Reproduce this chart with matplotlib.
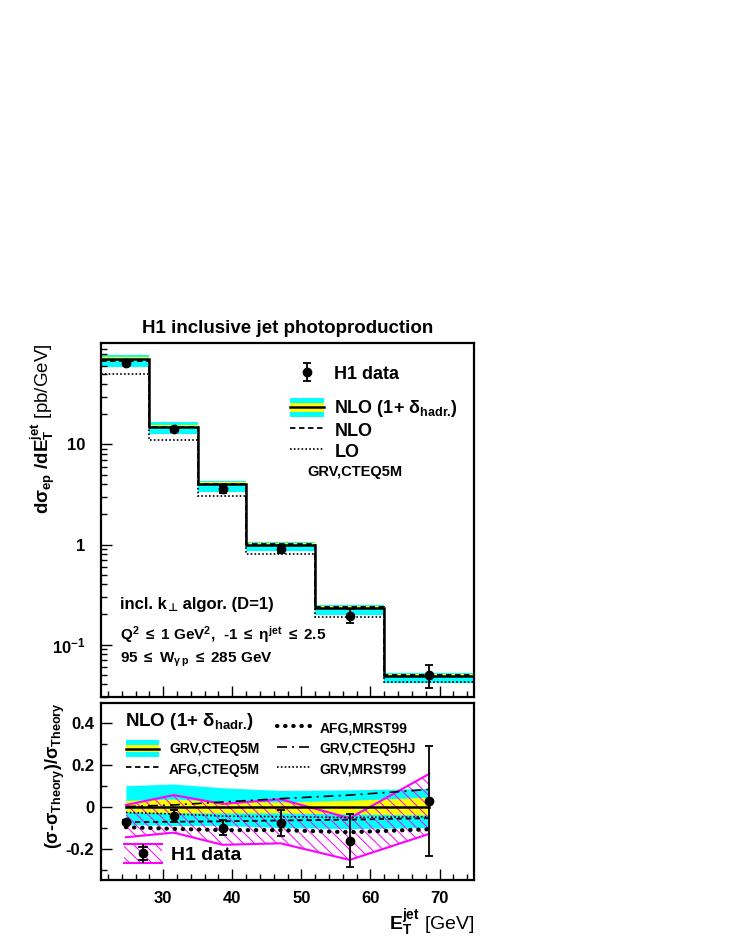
import matplotlib
matplotlib.use('Agg')
import matplotlib.pyplot as plt
from matplotlib.ticker import MultipleLocator, FixedLocator, LogLocator, NullFormatter, FixedFormatter
from matplotlib.legend_handler import HandlerBase
from matplotlib.patches import Rectangle, Patch
from matplotlib.lines import Line2D

plt.rcParams['font.family'] = ['Liberation Sans', 'DejaVu Sans']
plt.rcParams['font.weight'] = 'bold'
plt.rcParams['mathtext.fontset'] = 'custom'
plt.rcParams['mathtext.rm'] = 'Liberation Sans:bold'
plt.rcParams['mathtext.it'] = 'Liberation Sans:bold'
plt.rcParams['mathtext.bf'] = 'Liberation Sans:bold'
plt.rcParams['mathtext.default'] = 'rm'
plt.rcParams['hatch.linewidth'] = 0.7

# E_T^jet bins (GeV) and data point positions
bin_edges = [21, 28, 35, 42, 52, 62, 75]
x_pts = [24.6, 31.5, 38.6, 47.0, 57.0, 68.5]

# top panel: d sigma / dE_T  [pb/GeV]
nlo_had = [70.5, 14.8, 4.0, 0.99, 0.233, 0.0483]
nlo = [68.0, 15.0, 4.05, 1.02, 0.237, 0.0495]
lo = [51.0, 11.1, 3.05, 0.81, 0.190, 0.0425]
scale_lo = [59.5, 12.7, 3.37, 0.86, 0.197, 0.0417]
scale_hi = [78.9, 16.6, 4.33, 1.07, 0.250, 0.0521]
had_lo = [69.0, 14.5, 3.92, 0.97, 0.228, 0.0473]
had_hi = [74.5, 15.5, 4.18, 1.04, 0.244, 0.0505]

h1 = [65.0, 14.1, 3.56, 0.91, 0.194, 0.0496]
h1_lo = [61.5, 13.3, 3.25, 0.83, 0.165, 0.037]
h1_hi = [68.5, 14.9, 3.85, 1.00, 0.226, 0.0623]

# bottom panel: (sigma - sigma_theory)/sigma_theory
rel_h1 = [-0.074, -0.045, -0.100, -0.079, -0.165, 0.027]
rel_h1_lo = [-0.085, -0.072, -0.135, -0.140, -0.290, -0.235]
rel_h1_hi = [-0.063, -0.015, -0.065, -0.016, -0.035, 0.290]
rel_corr_lo = [-0.146, -0.124, -0.182, -0.175, -0.254, -0.130]
rel_corr_hi = [0.008, 0.055, 0.013, 0.035, -0.055, 0.156]

rel_scale_lo = [-0.085, -0.090, -0.090, -0.100, -0.105, -0.100]
rel_scale_hi = [0.100, 0.108, 0.090, 0.077, 0.080, 0.087]
rel_had_lo = [-0.025, -0.030, -0.030, -0.030, -0.035, -0.040]
rel_had_hi = [0.030, 0.036, 0.025, 0.022, 0.030, 0.045]

rel_grv_cteq5m = [0.0, 0.0, 0.0, 0.0, 0.0, 0.0]
rel_afg_cteq5m = [-0.074, -0.072, -0.070, -0.066, -0.062, -0.055]
rel_afg_mrst99 = [-0.098, -0.106, -0.112, -0.112, -0.122, -0.108]
rel_grv_cteq5hj = [0.0, 0.008, 0.022, 0.038, 0.055, 0.082]
rel_grv_mrst99 = [-0.028, -0.035, -0.045, -0.048, -0.052, -0.048]

thick_dot = (0, (0.1, 1.85))
dash_dot = (0, (6, 3, 1.2, 3))
fine_dot = (0, (1, 1.3))
dashed = (0, (3, 2))


class BandHandler(HandlerBase):
    def create_artists(self, legend, orig_handle, xd, yd, w, h, fontsize, trans):
        x0, y0 = -xd, -yd
        outer = Rectangle((x0, y0), w, h, facecolor='cyan', lw=0, transform=trans)
        inner = Rectangle((x0, y0 + 0.28 * h), w, 0.44 * h, facecolor='yellow', lw=0, transform=trans)
        line = Line2D([x0, x0 + w], [y0 + 0.5 * h] * 2, color='black', lw=1.8, transform=trans)
        return [outer, inner, line]


class H1Handler(HandlerBase):
    def create_artists(self, legend, orig_handle, xd, yd, w, h, fontsize, trans):
        x0, y0 = -xd, -yd
        xm = x0 + w / 2
        box = Rectangle((x0, y0), w, h, facecolor='none', edgecolor='magenta',
                        hatch='\\\\\\', lw=0, transform=trans)
        top = Line2D([x0, x0 + w], [y0 + h] * 2, color='magenta', lw=1.5, transform=trans)
        bot = Line2D([x0, x0 + w], [y0, y0], color='magenta', lw=1.5, transform=trans)
        bar = Line2D([xm, xm], [y0 + 0.05 * h, y0 + 0.95 * h], color='black', lw=1.3, transform=trans)
        c1 = Line2D([xm - 3, xm + 3], [y0 + 0.85 * h] * 2, color='black', lw=1.3, transform=trans)
        c2 = Line2D([xm - 3, xm + 3], [y0 + 0.15 * h] * 2, color='black', lw=1.3, transform=trans)
        dot = Line2D([xm], [y0 + 0.5 * h], marker='o', ms=6, color='black', transform=trans)
        return [box, top, bot, bar, c1, c2, dot]


fig = plt.figure(figsize=(7.32, 9.48), dpi=100)
ax = fig.add_axes([0.138, 0.2648, 0.5096, 0.3734])
ax2 = fig.add_axes([0.138, 0.0717, 0.5096, 0.1867])

# ---- top panel
ax.stairs(scale_hi, bin_edges, baseline=scale_lo, fill=True, color='cyan', lw=0)
ax.stairs(had_hi, bin_edges, baseline=had_lo, fill=True, color='yellow', lw=0)
ax.stairs(lo, bin_edges, baseline=None, color='black', lw=1.2, ls=fine_dot)
ax.stairs(nlo, bin_edges, baseline=None, color='black', lw=1.3, ls=dashed)
ax.stairs(nlo_had, bin_edges, baseline=None, color='black', lw=1.8)
err_lo = [v - l for v, l in zip(h1, h1_lo)]
err_hi = [u - v for v, u in zip(h1, h1_hi)]
data = ax.errorbar(x_pts, h1, yerr=[err_lo, err_hi], fmt='o', color='black', ms=6,
                   elinewidth=1.3, capsize=3, capthick=1.3, zorder=5)

ax.set_yscale('log')
ax.set_xlim(21, 75)
ax.set_ylim(0.03, 103)
ax.yaxis.set_major_locator(FixedLocator([0.1, 1, 10]))
ax.yaxis.set_major_formatter(FixedFormatter([r'10$^{-1}$', '1', '10']))
ax.yaxis.set_minor_locator(LogLocator(base=10, subs=range(2, 10)))
ax.yaxis.set_minor_formatter(NullFormatter())
ax.xaxis.set_major_locator(MultipleLocator(10))
ax.xaxis.set_minor_locator(MultipleLocator(2))
ax.set_xticklabels([])
ax.tick_params(which='both', direction='in', top=False, right=False, width=1)
ax.tick_params(which='major', length=8, labelsize=12, pad=11)
ax.tick_params(which='minor', length=4)
for s in ax.spines.values():
    s.set_linewidth(1.6)
ax.set_ylabel(r'$d\sigma_{ep}$ $/dE_{T}^{jet}$ [pb/GeV]', fontsize=13.5, loc='top')
ax.yaxis.set_label_coords(-0.118, 1.0)

band_key = Patch()
leg1 = ax.legend([data], ['H1 data'], loc='center left', bbox_to_anchor=(0.507, 0.912),
                 frameon=False, fontsize=13, handlelength=1.9, handletextpad=0.55,
                 borderpad=0, borderaxespad=0)
ax.add_artist(leg1)
ax.legend([band_key, Line2D([], [], color='black', lw=1.3, ls=dashed),
           Line2D([], [], color='black', lw=1.2, ls=fine_dot)],
          [r'NLO (1+ $\delta_{hadr.}\!)$', 'NLO', 'LO'],
          handler_map={band_key: BandHandler()},
          loc='upper left', bbox_to_anchor=(0.507, 0.845), frameon=False, fontsize=13,
          handlelength=1.9, handleheight=1.25, handletextpad=0.55, labelspacing=0.05,
          borderpad=0, borderaxespad=0)
ax.text(0.552, 0.636, 'GRV,CTEQ5M', transform=ax.transAxes, fontsize=10.5, va='center')

# incl. k_perp algor. (D=1) -- perp sign taken from DejaVu Sans
t_k = ax.text(0.051, 0.24, 'incl. k', transform=ax.transAxes, fontsize=12, va='bottom')
t_perp = ax.annotate('\u22a5', xy=(1, 0), xycoords=t_k, xytext=(0.5, -1), textcoords='offset points',
                     fontsize=8, family='DejaVu Sans', weight='bold', va='bottom', ha='left')
ax.annotate(' algor. (D=1)', xy=(1, 0), xycoords=(t_perp, t_k), xytext=(0.5, 0),
            textcoords='offset points', fontsize=12, va='bottom', ha='left')
ax.text(0.051, 0.175, r'Q$^{2}$ $\leq$ 1 GeV$^{2}$,  -1 $\leq$ $\eta^{jet}$ $\leq$ 2.5',
        transform=ax.transAxes, fontsize=11, va='center')
ax.text(0.051, 0.105, r'95 $\leq$ W$_{\gamma\, p}$ $\leq$ 285 GeV', transform=ax.transAxes,
        fontsize=11, va='center')

fig.text(0.393, 0.653, 'H1 inclusive jet photoproduction', ha='center', va='center', fontsize=13.5)

# ---- bottom panel
ax2.fill_between(x_pts, rel_scale_lo, rel_scale_hi, color='cyan', lw=0)
ax2.fill_between(x_pts, rel_had_lo, rel_had_hi, color='yellow', lw=0)
ax2.fill_between(x_pts, rel_corr_lo, rel_corr_hi, facecolor='none', edgecolor='magenta',
                 hatch='\\\\\\', lw=0)
ax2.plot(x_pts, rel_corr_hi, color='magenta', lw=1.5)
ax2.plot(x_pts, rel_corr_lo, color='magenta', lw=1.5)
ax2.plot(x_pts, rel_grv_cteq5m, color='black', lw=1.8)
l_afg5m, = ax2.plot(x_pts, rel_afg_cteq5m, color='black', lw=1.3, ls=dashed)
l_afgmr, = ax2.plot(x_pts, rel_afg_mrst99, color='black', lw=3, ls=thick_dot, dash_capstyle='round')
l_hj, = ax2.plot(x_pts, rel_grv_cteq5hj, color='black', lw=1.2, ls=dash_dot)
l_grvmr, = ax2.plot(x_pts, rel_grv_mrst99, color='black', lw=1.2, ls=fine_dot)
rel_lo = [v - l for v, l in zip(rel_h1, rel_h1_lo)]
rel_hi = [u - v for v, u in zip(rel_h1, rel_h1_hi)]
ax2.errorbar(x_pts, rel_h1, yerr=[rel_lo, rel_hi], fmt='o', color='black', ms=6,
             elinewidth=1.3, capsize=3, capthick=1.3, zorder=5)

ax2.set_xlim(21, 75)
ax2.set_ylim(-0.35, 0.494)
ax2.xaxis.set_major_locator(MultipleLocator(10))
ax2.xaxis.set_minor_locator(MultipleLocator(2))
ax2.yaxis.set_major_locator(FixedLocator([-0.2, 0, 0.2, 0.4]))
ax2.yaxis.set_major_formatter(FixedFormatter(['-0.2', '0', '0.2', '0.4']))
ax2.yaxis.set_minor_locator(MultipleLocator(0.1))
ax2.tick_params(which='both', direction='in', top=False, right=False, width=1)
ax2.tick_params(which='major', length=8, labelsize=12, pad=5)
ax2.tick_params(which='minor', length=4)
ax2.tick_params(axis='x', which='major', pad=8)
for s in ax2.spines.values():
    s.set_linewidth(1.6)
ax2.set_ylabel(r'($\sigma$-$\sigma_{Theory}$)/$\sigma_{Theory}$', fontsize=13, fontweight='bold')
ax2.yaxis.set_label_coords(-0.09, 0.59)
ax2.set_xlabel(r'$E_{T}^{jet}$ [GeV]', fontsize=14, loc='right', labelpad=1)

ax2.text(0.064, 0.893, r'NLO (1+ $\delta_{hadr.}\!)$', transform=ax2.transAxes, fontsize=13.5, va='center')
blank = Line2D([], [], color='none')
band_key2 = Patch()
leg2 = ax2.legend([blank, band_key2, l_afg5m, l_afgmr, l_hj, l_grvmr],
                  ['', 'GRV,CTEQ5M', 'AFG,CTEQ5M', 'AFG,MRST99', 'GRV,CTEQ5HJ', 'GRV,MRST99'],
                  handler_map={band_key2: BandHandler()}, ncol=2,
                  loc='upper left', bbox_to_anchor=(0.067, 0.905), frameon=False, fontsize=10,
                  handlelength=2.4, handleheight=1.5, handletextpad=0.7, labelspacing=0.25,
                  columnspacing=1.2, borderpad=0, borderaxespad=0)
ax2.add_artist(leg2)
h1_key = Patch()
ax2.legend([h1_key], ['H1 data'], handler_map={h1_key: H1Handler()},
           loc='upper left', bbox_to_anchor=(0.062, 0.205), frameon=False, fontsize=14,
           handlelength=1.95, handleheight=1.15, handletextpad=0.45,
           borderpad=0, borderaxespad=0)

fig.savefig('out.png', dpi=100)
